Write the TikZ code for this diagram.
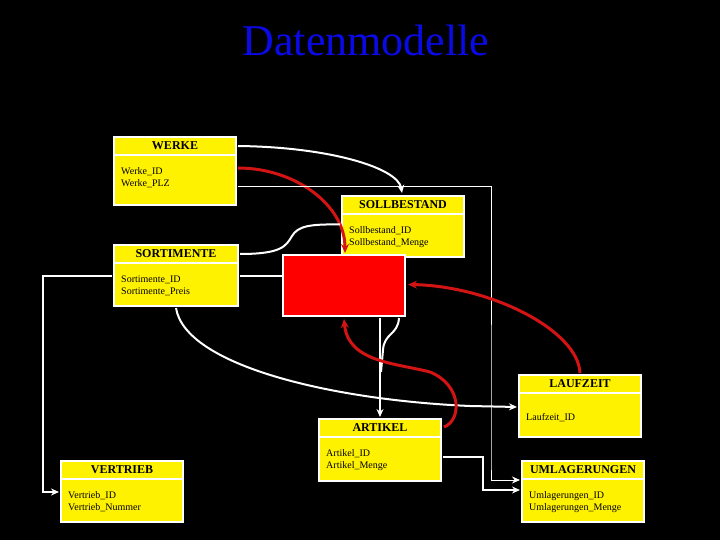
\documentclass[tikz,border=0pt]{standalone}
\usepackage{fontspec}
\setmainfont{Liberation Serif}
\usetikzlibrary{calc,arrows.meta}
\definecolor{redc}{RGB}{210,20,20}
\definecolor{titleblue}{RGB}{10,10,230}
\tikzset{
  tbl/.style={draw=white, line width=2pt, fill=yellow, inner sep=0pt, rectangle},
  redbox/.style={draw=white, line width=2pt, fill=red, inner sep=0pt, rectangle},
  sepline/.style={white, line width=2pt},
  hdr/.style={font=\bfseries\fontsize{12}{14}\selectfont, inner sep=0pt},
  bdy/.style={font=\fontsize{10}{12}\selectfont, align=left, inner sep=0pt, anchor=west},
  wline/.style={white, line width=2pt},
  tline/.style={white, line width=1pt},
  rline/.style={draw=redc, line width=3pt},
  warr/.style={-{Stealth[length=8pt,width=7pt]}},
  rarr/.style={-{Stealth[length=9pt,width=8pt]}},
}
\newcommand\ertab[8]{%
  \node[tbl, minimum width=#4pt, minimum height=#5pt] (#1) at (#2,#3) {};
  \draw[sepline] ($(#1.north west)+(0,19)$) -- ($(#1.north east)+(0,19)$);
  \node[hdr] (#1h) at ($(#1.north)+(0,10)$) {#6};
  \node[bdy] (#1b) at ($(#1.north west)+(8,#8)$) {#7};
}
\begin{document}
\begin{tikzpicture}[x=1pt,y=-1pt]
\fill[black] (0,0) rectangle (720,540);
\useasboundingbox (0,0) rectangle (720,540);

\node[text=titleblue, font=\fontsize{44}{50}\selectfont, inner sep=0pt] (title) at (366,40) {Datenmodelle};

\ertab{werke}{175}{171}{122}{68}{WERKE}{Werke\_ID\\Werke\_PLZ}{42}
\ertab{soll}{403}{226.5}{122}{61}{SOLLBESTAND}{Sollbestand\_ID\\Sollbestand\_Menge}{42}
\ertab{sort}{176}{275.5}{124}{61}{SORTIMENTE}{Sortimente\_ID\\Sortimente\_Preis}{42}
\node[redbox, minimum width=122pt, minimum height=61pt] (red) at (344,285.5) {};
\ertab{lauf}{580}{406}{122}{62}{LAUFZEIT}{Laufzeit\_ID}{44}
\ertab{artikel}{380}{450}{122}{62}{ARTIKEL}{Artikel\_ID\\Artikel\_Menge}{42}
\ertab{vert}{122}{491.5}{122}{61}{VERTRIEB}{Vertrieb\_ID\\Vertrieb\_Nummer}{42}
\ertab{umlag}{583}{491.5}{122}{61}{UMLAGERUNGEN}{Umlagerungen\_ID\\Umlagerungen\_Menge}{42}

% WERKE -> SOLLBESTAND
\draw[wline, warr] ($(werke.north east)+(1,10)$) .. controls (330,147) and (398,168) .. ($(soll.north)+(-1,-2)$);
% WERKE -> red box
\draw[rline, rarr] ($(werke.east)+(1,-3)$) .. controls (295,168) and (345,205) .. ($(red.north)+(1,-1)$);
% WERKE -> UMLAGERUNGEN
\coordinate (w3) at ($(werke.south east)+(1,-19)$);
\coordinate (u1) at ($(umlag.north west)+(-1,20)$);
\coordinate (k1) at ($(umlag.north west)+(-30,0)$);
\draw[tline, warr] (w3) -| (k1) |- (u1);
% SORTIMENTE -> SOLLBESTAND
\draw[wline] ($(sort.north east)+(1,10)$) .. controls (282,254) and (286,246) .. (292,236) .. controls (298,226) and (310,224) .. ($(soll.west)+(-1,-2)$);
% SORTIMENTE -> red box
\coordinate (s1) at ($(sort.north east)+(1,32)$);
\draw[wline] (s1) -- (s1 -| red.west);
% SORTIMENTE -> VERTRIEB
\coordinate (s2) at ($(sort.north west)+(-1,32)$);
\coordinate (v1) at ($(vert.north west)+(-1,32)$);
\draw[wline, warr] (s2) -- ++(-69,0) |- (v1);
% SORTIMENTE -> LAUFZEIT
\draw[wline, warr] ($(sort.south)+(0,1)$) .. controls (185,365) and (330,400) .. (470,406) -- ($(lauf.west)+(-1,1)$);
% red box -> ARTIKEL
\draw[wline, warr] ($(artikel.north |- red.south)+(0,1)$) -- ($(artikel.north)+(0,-1)$);
\draw[wline] ($(red.south east)+(-7,1)$) .. controls (398,335) and (384,333) .. (383,350) -- (381,372);
% ARTIKEL -> red box
\draw[rline, rarr] ($(artikel.north east)+(2,9)$) .. controls (462,420) and (462,385) .. (430,372) .. controls (395,363) and (348,362) .. ($(red.south)+(0,2)$);
% LAUFZEIT -> red box
\draw[rline, rarr] ($(lauf.north)+(0,-1)$) .. controls (578,330) and (490,286) .. ($(red.east)+(2,-1)$);
% ARTIKEL -> UMLAGERUNGEN
\coordinate (a1) at ($(artikel.north east)+(1,39)$);
\coordinate (u2) at ($(umlag.north west)+(-1,30)$);
\draw[wline, warr] (a1) -- ++(40,0) |- (u2);
\end{tikzpicture}
\end{document}
